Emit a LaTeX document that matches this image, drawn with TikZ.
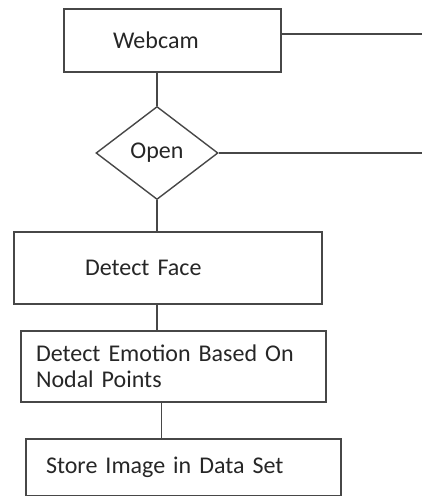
\documentclass[tikz,border=0pt]{standalone}
\usepackage{fontspec}
\setmainfont{Carlito}
\usepackage{tikz}
\usetikzlibrary{shapes.geometric}
\tikzset{
    stepnode/.style = {
        align=left,
        inner ysep=0pt,
        rectangle,
        draw=black!72,
        line width=1.4pt,
        text=black!85,
        font=\fontsize{24}{26}\selectfont
    },
    decisionnode/.style = {
        stepnode,
        diamond,
        inner sep=0pt,
        minimum width=122pt,
        minimum height=93pt
    },
    link/.style = {
        draw=black!72,
        line width=1.4pt
    }
}
\begin{document}
\begin{tikzpicture}[x=1pt,y=-1pt]
    \useasboundingbox (0,0) rectangle (422,496);
    \node [stepnode, minimum height=63pt, inner xsep=49pt, text width=119pt] (webcam) at (172.5,40.5) {Webcam};
    \node [decisionnode] (open) at (157,153) {Open};
    \node [stepnode, minimum height=72pt, inner xsep=71pt, text width=166pt] (detectface) at (168,268) {Detect Face};
    \node [stepnode, minimum height=71pt, inner xsep=15pt, text width=275pt] (detectemotion) at (173.5,366.5) {Detect Emotion Based On\\Nodal Points};
    \node [stepnode, minimum height=57pt, inner xsep=20pt, text width=275pt] (storeimage) at (183.5,467.5) {Store Image in Data Set};
    \coordinate (webcamout) at (422,34);
    \coordinate (openout) at (422,153);
    % connectors
    \draw [link] (webcam.south -| open.north) -- (open.north);
    \draw [link] (open.south) -- (open.south |- detectface.north);
    \draw [link] (detectface.south -| open.south) -- (detectemotion.north -| open.south);
    \draw [link] ([xshift=-22pt]storeimage.north |- detectemotion.south) -- ([xshift=-22pt]storeimage.north);
    \draw [link] (webcam.east |- webcamout) -- (webcamout);
    \draw [link] (open.east) -- (openout);
\end{tikzpicture}
\end{document}
